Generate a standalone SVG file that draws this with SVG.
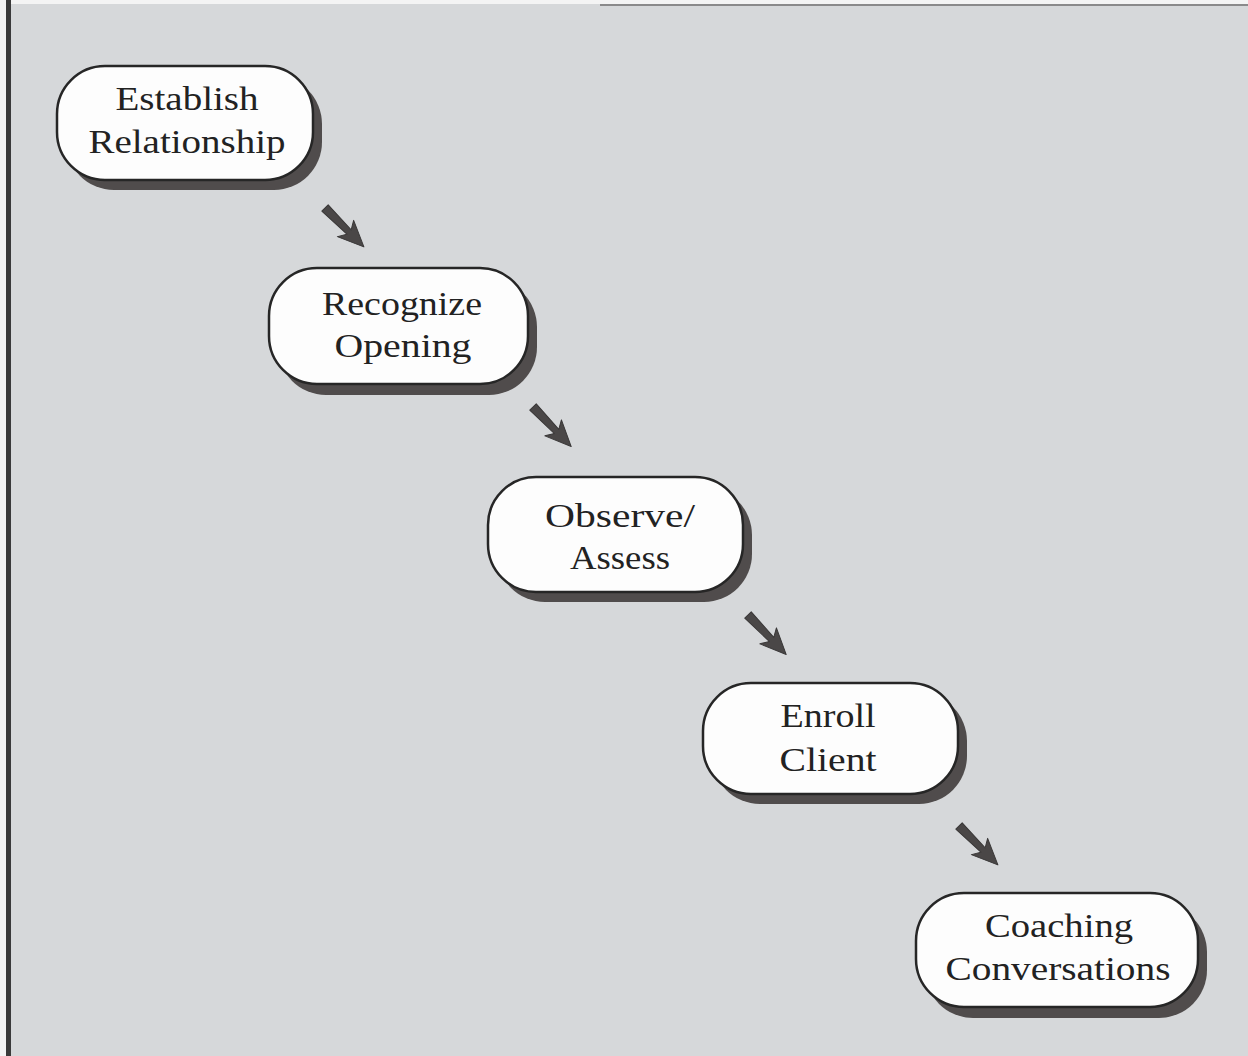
<svg xmlns="http://www.w3.org/2000/svg" width="1248" height="1056" viewBox="0 0 1248 1056">
  <style>
    .page { fill: #d6d8da; }
    .shadow { fill: #504c4c; }
    .box { fill: #fdfdfd; stroke: #262626; stroke-width: 2.5; }
    .label { font-family: "Liberation Serif", "DejaVu Serif", serif; font-size: 34px; fill: #222; text-anchor: middle; }
    .arrow { fill: #4a4747; stroke: #3a3838; stroke-width: 1; stroke-linejoin: round; }
  </style>
  <defs>
    <!-- short diagonal pointer, drawn along +x and rotated into place -->
    <polygon id="pointer" points="0,-4.5 34,-3 29,-11.5 55,0 29,11.5 34,3 0,4.5"/>
  </defs>

  <!-- page background and edges -->
  <rect x="0" y="0" width="1248" height="1056" fill="#f4f4f4"/>
  <rect class="page" x="11" y="4" width="1237" height="1052"/>
  <rect x="6" y="0" width="5" height="1056" fill="#3a3a3a"/>
  <line x1="600" y1="5" x2="1248" y2="5" stroke="#6a6a6a" stroke-width="2" opacity="0.7"/>

  <g id="connectors">
    <use href="#pointer" class="arrow" transform="translate(325,208) rotate(45)"/>
    <use href="#pointer" class="arrow" transform="translate(533,407) rotate(46)"/>
    <use href="#pointer" class="arrow" transform="translate(748,615) rotate(46)"/>
    <use href="#pointer" class="arrow" transform="translate(959,826) rotate(45)"/>
  </g>

  <g id="establish-relationship">
    <rect class="shadow" x="66" y="76" width="256" height="114" rx="48"/>
    <rect class="box" x="57" y="66" width="256" height="114" rx="48"/>
    <text class="label" x="187" y="110" textLength="143" lengthAdjust="spacingAndGlyphs">Establish</text>
    <text class="label" x="187" y="153" textLength="197" lengthAdjust="spacingAndGlyphs">Relationship</text>
  </g>

  <g id="recognize-opening">
    <rect class="shadow" x="278" y="279" width="259" height="116" rx="48"/>
    <rect class="box" x="269" y="268" width="259" height="116" rx="48"/>
    <text class="label" x="402" y="315" textLength="160" lengthAdjust="spacingAndGlyphs">Recognize</text>
    <text class="label" x="403" y="357" textLength="137" lengthAdjust="spacingAndGlyphs">Opening</text>
  </g>

  <g id="observe-assess">
    <rect class="shadow" x="497" y="487" width="255" height="115" rx="48"/>
    <rect class="box" x="488" y="477" width="255" height="115" rx="48"/>
    <text class="label" x="620" y="527" textLength="150" lengthAdjust="spacingAndGlyphs">Observe/</text>
    <text class="label" x="620" y="569" textLength="100" lengthAdjust="spacingAndGlyphs">Assess</text>
  </g>

  <g id="enroll-client">
    <rect class="shadow" x="712" y="693" width="255" height="111" rx="48"/>
    <rect class="box" x="703" y="683" width="255" height="111" rx="48"/>
    <text class="label" x="828" y="727" textLength="95" lengthAdjust="spacingAndGlyphs">Enroll</text>
    <text class="label" x="828" y="771" textLength="97" lengthAdjust="spacingAndGlyphs">Client</text>
  </g>

  <g id="coaching-conversations">
    <rect class="shadow" x="925" y="904" width="282" height="114" rx="48"/>
    <rect class="box" x="916" y="893" width="282" height="114" rx="48"/>
    <text class="label" x="1059" y="937" textLength="148" lengthAdjust="spacingAndGlyphs">Coaching</text>
    <text class="label" x="1058" y="980" textLength="225" lengthAdjust="spacingAndGlyphs">Conversations</text>
  </g>
</svg>
